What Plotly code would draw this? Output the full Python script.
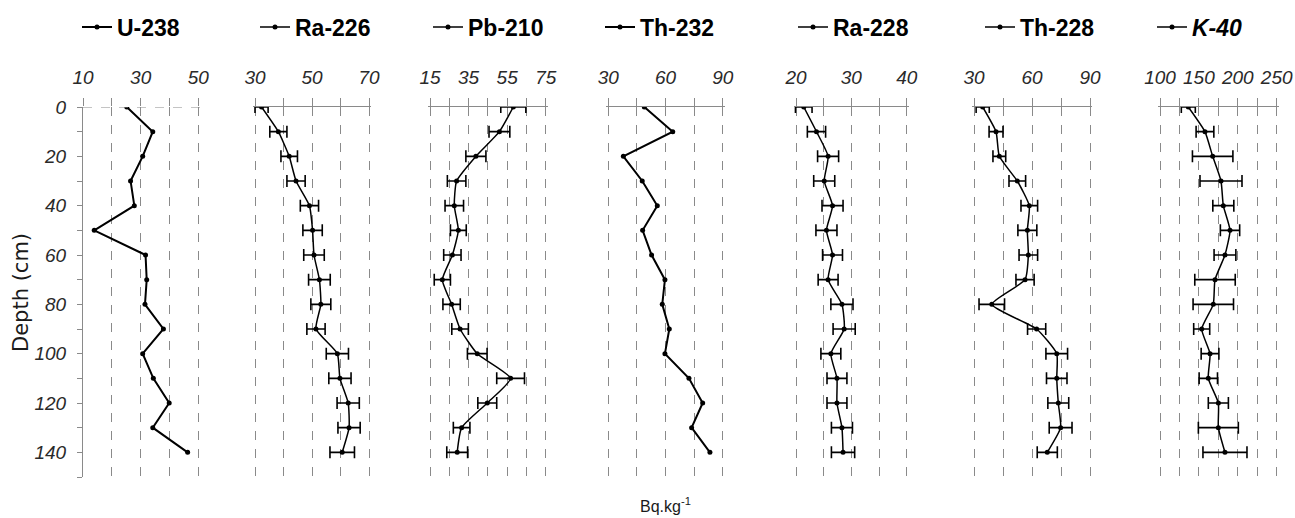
import plotly.graph_objects as go

# ---------------- data ----------------
depth = [0, 10, 20, 30, 40, 50, 60, 70, 80, 90, 100, 110, 120, 130, 140]

u238 = [25.2, 34.2, 30.7, 26.5, 27.8, 13.9, 31.7, 32.1, 31.5, 37.9, 30.7, 34.4, 39.9, 34.2, 46.3]

ra226 = [32.3, 38.2, 42.0, 44.4, 49.1, 50.2, 50.7, 52.6, 53.1, 51.4, 58.9, 59.8, 62.7, 63.0, 60.6]
ra226_err = [2.3, 3.0, 2.9, 3.2, 3.2, 3.4, 3.6, 3.8, 3.5, 3.2, 3.9, 3.9, 3.9, 3.9, 4.3]

pb210 = [58.2, 51.0, 38.8, 28.8, 27.6, 29.7, 26.6, 21.4, 26.2, 30.6, 39.5, 56.8, 44.7, 31.4, 29.1]
pb210_err = [6.5, 5.4, 5.2, 4.8, 4.8, 4.1, 4.5, 4.2, 4.5, 4.3, 5.1, 7.2, 4.9, 4.3, 5.4]

th232 = [48.9, 63.8, 37.9, 47.8, 55.7, 48.0, 52.7, 59.7, 58.3, 62.0, 59.7, 72.3, 79.5, 73.7, 83.3]

ra228 = [21.4, 23.7, 25.8, 25.1, 26.6, 25.5, 26.6, 25.8, 28.3, 28.7, 26.3, 27.4, 27.4, 28.3, 28.5]
ra228_err = [1.5, 1.65, 1.9, 1.9, 1.9, 1.9, 1.8, 1.8, 2.0, 2.0, 1.8, 1.8, 1.8, 1.9, 2.1]

th228 = [34.5, 41.4, 43.1, 52.4, 58.6, 57.6, 58.1, 56.4, 39.2, 62.4, 72.8, 72.8, 73.6, 74.8, 67.9]
th228_err = [3.4, 3.6, 3.3, 4.3, 4.3, 4.9, 4.8, 4.7, 6.6, 4.7, 5.6, 5.3, 5.4, 5.9, 5.2]

k40 = [136.4, 157.8, 167.7, 178.4, 181.4, 190.0, 183.5, 170.7, 168.5, 153.6, 164.3, 162.1, 175.0, 175.0, 183.5]
k40_err = [9.0, 11.4, 26.0, 27.0, 13.5, 12.4, 14.0, 26.0, 26.0, 10.3, 11.4, 11.8, 12.9, 25.7, 28.3]

names = ["U-238", "Ra-226", "Pb-210", "Th-232", "Ra-228", "Th-228", "<i>K-40</i>"]
series = [u238, ra226, pb210, th232, ra228, th228, k40]
errors = [None, ra226_err, pb210_err, None, ra228_err, th228_err, k40_err]
x_ranges = [(10, 50), (30, 70), (15, 75), (30, 90), (20, 40), (30, 90), (100, 250)]
x_label_step = [20, 20, 20, 30, 10, 30, 50]
x_grid_step = [10, 10, 10, 15, 5, 15, 25]
y_ticks = [0, 20, 40, 60, 80, 100, 120, 140]
y_range = (150, 0)

# ---------------- layout geometry (pixels) ----------------
W, H = 1295, 518
panel_px = [(83, 198.3), (255, 369), (430, 545.7), (608.3, 722.7),
            (796, 906.7), (974, 1090), (1160, 1276.7)]
legend_text_px = [117, 295, 468, 640, 833, 1020, 1192]
top_px, bot_px = 107, 477
PAD = 2  # px of extra room so the edge gridlines are drawn

GRID = "#8a8a8a"
TICKFONT = dict(family="Liberation Sans, Arial, sans-serif", size=19, color="#2a2a2a")

fig = go.Figure()

for i in range(7):
    n = "" if i == 0 else str(i + 1)
    xa = "x" + n
    ya = "y" + n
    lg = "legend" + n
    err = errors[i]
    tr = dict(
        x=series[i], y=depth, xaxis=xa, yaxis=ya, name=names[i],
        mode="lines+markers", legend=lg, showlegend=True,
        marker=dict(color="black", size=5, symbol="circle"),
    )
    if err is None:
        tr["line"] = dict(color="black", width=2)
    else:
        tr["line"] = dict(color="black", width=1.5, shape="spline", smoothing=0.5)
        tr["error_x"] = dict(type="data", array=err, visible=True,
                             color="black", thickness=1.6, width=6)
    fig.add_trace(go.Scatter(**tr))

    lo, hi = x_ranges[i]
    x0p, x1p = panel_px[i]
    per_px = (hi - lo) / (x1p - x0p)
    padl = 0 if i == 0 else PAD
    padr = PAD
    fig.layout["xaxis" + n] = dict(
        domain=[(x0p - padl) / W, (x1p + padr) / W], anchor=ya, side="top",
        range=[lo - padl * per_px, hi + padr * per_px],
        tick0=lo, dtick=x_label_step[i],
        showgrid=True, gridcolor=GRID, griddash="dash", gridwidth=1,
        showline=(i != 0), linecolor=GRID, linewidth=1.2,
        ticks="outside", ticklen=8, tickcolor=GRID, tickwidth=1,
        minor=dict(tick0=lo, dtick=x_grid_step[i], ticks="outside", ticklen=8,
                   tickcolor=GRID, showgrid=True, gridcolor=GRID,
                   griddash="dash", gridwidth=1),
        tickfont=dict(TICKFONT, style="italic"), ticklabelstandoff=6,
        zeroline=False, fixedrange=True, automargin=False,
    )
    ydict = dict(
        domain=[1 - bot_px / H, 1 - top_px / H], anchor=xa,
        range=list(y_range), showgrid=False, zeroline=False, fixedrange=True,
        automargin=False,
    )
    if i == 0:
        ydict.update(
            tickvals=y_ticks, ticks="outside", ticklen=5, tickcolor=GRID,
            showline=True, linecolor=GRID, linewidth=1.2,
            minor=dict(dtick=10, tick0=0, ticks="outside", ticklen=5, tickcolor=GRID),
            tickfont=dict(TICKFONT, style="italic"), ticklabelstandoff=7,
        )
    else:
        ydict.update(visible=False)
    fig.layout["yaxis" + n] = ydict

    fig.layout[lg] = dict(
        x=(legend_text_px[i] - 40) / W, y=1 - 27 / H, xanchor="left", yanchor="middle",
        bgcolor="rgba(0,0,0,0)", borderwidth=0,
        font=dict(family="Liberation Sans, Arial, sans-serif", size=23, color="black",
                  weight="bold"),
    )

# dashed line along depth 0 in the first panel
fig.add_shape(type="line", xref="x domain", yref="y", x0=0, x1=1, y0=0, y1=0,
              line=dict(color=GRID, width=1.2, dash="dash"))

fig.add_annotation(text="Depth (cm)", xref="paper", yref="paper",
                   x=21 / W, y=1 - 293 / H, xanchor="center", yanchor="middle",
                   textangle=-90, showarrow=False,
                   font=dict(family="DejaVu Sans, sans-serif", size=21, color="#1a1a1a"))
fig.add_annotation(text="Bq.kg<sup>-1</sup>", xref="paper", yref="paper",
                   x=665 / W, y=1 - 505 / H, xanchor="center", yanchor="middle",
                   showarrow=False,
                   font=dict(family="Liberation Sans, Arial, sans-serif", size=16, color="#1a1a1a"))

fig.update_layout(
    width=W, height=H, margin=dict(l=0, r=0, t=0, b=0, autoexpand=False),
    paper_bgcolor="white", plot_bgcolor="white", showlegend=True,
)

fig.write_html("out.html", config={"displayModeBar": False},
               post_script="document.body.style.margin='0px';document.body.style.overflow='hidden';")
